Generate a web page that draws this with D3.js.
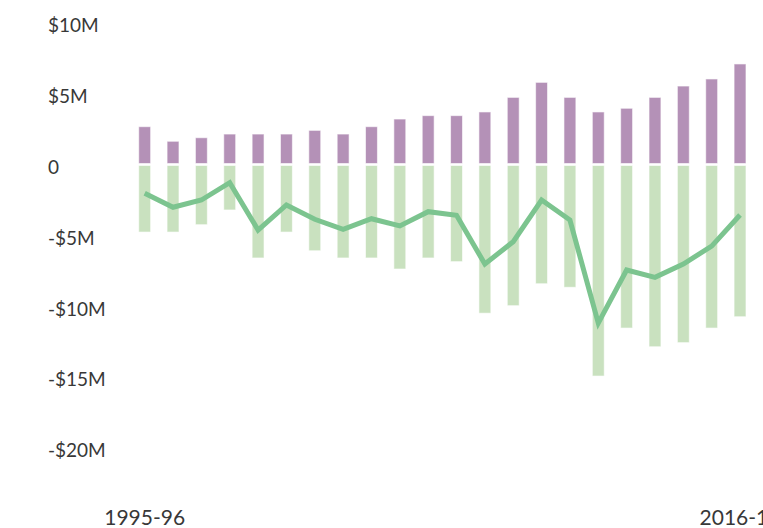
<!DOCTYPE html>
<meta charset="utf-8">
<style>
body{ margin:0; background:#fff; }
text{
	font-family:Lato, "Open Sans", sans-serif;
	fill:#383838;
}
.ylab{ font-size:19px; }
.xlab{ font-size:21px; }
.bars rect{
	stroke:#fff;
	stroke-opacity:0.6;
	stroke-width:1px;
}
.net{
	fill:none;
	stroke:#7cc48f;
	stroke-width:5px;
	stroke-linejoin:miter;
}
</style>
<body>
<script src="https://d3js.org/d3.v7.min.js"></script>
<script>

var years=["1995-96","1996-97","1997-98","1998-99","1999-00","2000-01","2001-02","2002-03","2003-04","2004-05","2005-06",
	"2006-07","2007-08","2008-09","2009-10","2010-11","2011-12","2012-13","2013-14","2014-15","2015-16","2016-17"];
// millions of dollars
var revenue=[2.67,1.64,1.89,2.15,2.15,2.15,2.41,2.15,2.67,3.21,3.45,3.45,3.71,4.74,5.8,4.74,3.71,3.97,4.74,5.54,6.04,7.1];
var spending=[-4.77,-4.77,-4.25,-3.21,-6.6,-4.77,-6.09,-6.6,-6.6,-7.38,-6.6,-6.86,-10.5,-9.97,-8.42,-8.67,-14.94,-11.55,-12.87,-12.58,-11.55,-10.75];
var net=[-2.03,-3.02,-2.51,-1.28,-4.63,-2.86,-3.87,-4.58,-3.83,-4.34,-3.33,-3.59,-7.03,-5.45,-2.51,-3.92,-11.2,-7.45,-7.97,-7.03,-5.76,-3.57];
var yTicks=[10,5,0,-5,-10,-15,-20];
var xTickLabels=["1995-96","2016-17"];

var width=763, height=528;
var svg=d3.select("body").append("svg").attr("width",width).attr("height",height);

var x=d3.scaleBand().domain(years).range([130.5,754.2]).paddingInner(0.58).paddingOuter(0.29);
var y=d3.scaleLinear().domain([-20,10]).range([447.7,22.9]);

var fmt=function(v){
	if(v==0) return "0";
	return (v<0?"-":"")+"$"+Math.abs(v)+"M";
};

// y labels
svg.append("g").selectAll("text").data(yTicks).join("text")
	.attr("class","ylab")
	.attr("x",48)
	.attr("y",d=>y(d))
	.attr("dy","0.5em")
	.text(fmt);

var g=svg.append("g").attr("class","bars");

g.selectAll(".rev").data(revenue).join("rect").attr("class","rev")
	.attr("x",(d,i)=>x(years[i]))
	.attr("width",x.bandwidth())
	.attr("y",d=>y(d))
	.attr("height",d=>y(0)-y(d)-1)
	.attr("fill","#b491b7");

g.selectAll(".spend").data(spending).join("rect").attr("class","spend")
	.attr("x",(d,i)=>x(years[i]))
	.attr("width",x.bandwidth())
	.attr("y",y(0)+1)
	.attr("height",d=>y(d)-y(0)-1)
	.attr("fill","#c9e1bf");

var line=d3.line()
	.x((d,i)=>x(years[i])+x.bandwidth()/2)
	.y(d=>y(d));

svg.append("path").attr("class","net").attr("d",line(net));

// x labels
svg.append("g").selectAll("text").data(xTickLabels).join("text")
	.attr("class","xlab")
	.attr("x",d=>x(d)+x.bandwidth()/2)
	.attr("y",525)
	.attr("text-anchor","middle")
	.text(d=>d);

</script>
</body>
</html>
